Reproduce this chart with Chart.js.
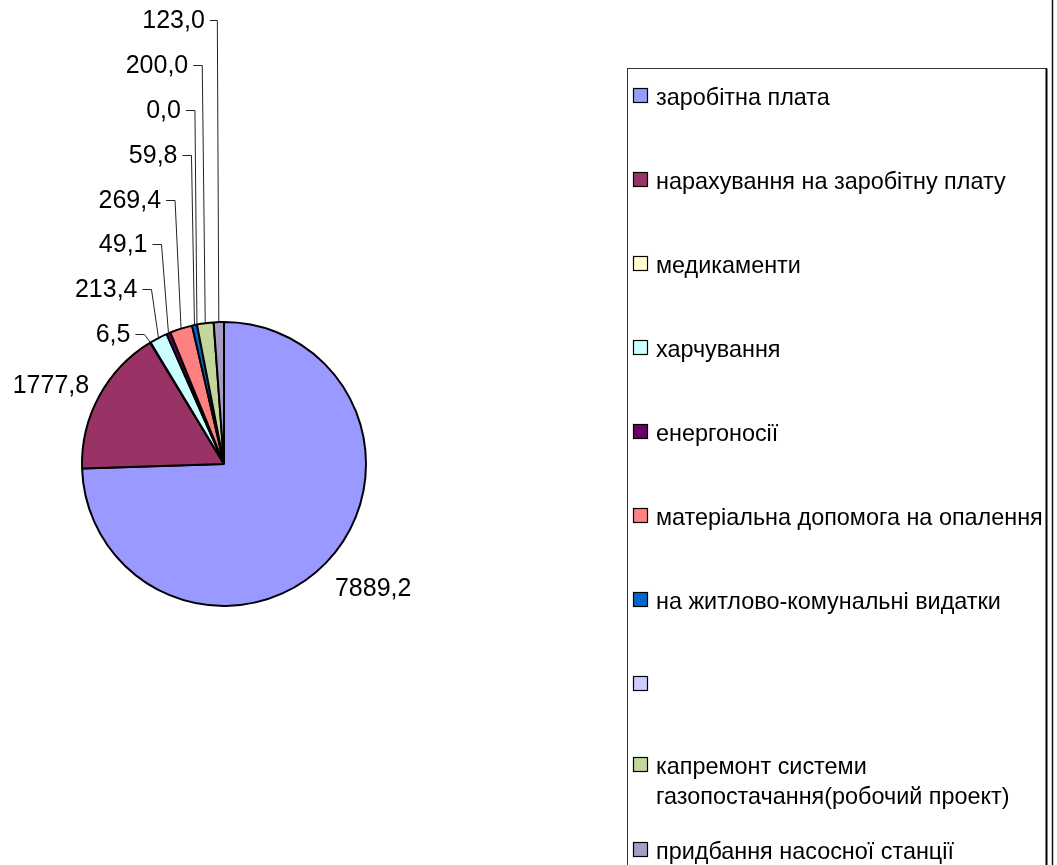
<!DOCTYPE html>
<html><head><meta charset="utf-8">
<script src="https://cdn.jsdelivr.net/npm/chart.js@4.4.1/dist/chart.umd.min.js"></script>
<style>html,body{margin:0;padding:0;background:#fff;overflow:hidden}</style>
</head><body>
<canvas id="c" width="1057" height="865"></canvas>
<script>
// ---- data ----
const categories = ["заробітна плата","нарахування на заробітну плату","медикаменти","харчування","енергоносії","матеріальна допомога на опалення","на житлово-комунальні видатки","","капремонт системи газопостачання(робочий проект)","придбання насосної станції"];
const values = [7889.2, 1777.8, 6.5, 213.4, 49.1, 269.4, 59.8, 0.0, 200.0, 123.0];
const colors = ["#9999FF","#993366","#FFFFCC","#CCFFFF","#660066","#FF8080","#0066CC","#CCCCFF","#C3D69B","#A99CC4"];
const valueLabels = values.map(v => v.toFixed(1).replace('.', ','));

// ---- layout ----
const LABEL_FONT = '25px "Liberation Sans", Arial, sans-serif';
const LEGEND_FONT = '23.4px "Liberation Sans", Arial, sans-serif';
const labelLayout = [
  {mode:'radial', dx:9, dy:33, align:'left'},
  {mode:'radial', dx:-10, dy:-3, align:'right'},
  {mode:'leader', baseY:342, gap:20},
  {mode:'leader', baseY:297, gap:21},
  {mode:'leader', baseY:252, gap:21},
  {mode:'leader', baseY:208, gap:20},
  {mode:'leader', baseY:163, gap:17},
  {mode:'leader', baseY:118, gap:16},
  {mode:'leader', baseY:73, gap:17},
  {mode:'leader', baseY:28, gap:14}
];
const legendBox = {x:627.5, y:68.5, w:419, h:900};
const legendBaselines = [105,189,273,357,441,525,609,693,774,859];
const legendTextX = 656, legendSwatchX = 633.5, legendMaxW = 400, legendLineH = 30;

const labelPlugin = {
  id:'labels',
  afterDatasetsDraw(chart){
    const ctx = chart.ctx;
    const meta = chart.getDatasetMeta(0);
    ctx.save();
    ctx.font = LABEL_FONT;
    ctx.fillStyle = '#000';
    ctx.strokeStyle = '#222';
    ctx.lineWidth = 1;
    meta.data.forEach((arc, i) => {
      const p = arc.getProps(['x','y','startAngle','endAngle','outerRadius'], true);
      const mid = (p.startAngle + p.endAngle) / 2;
      const ex = p.x + Math.cos(mid) * p.outerRadius;
      const ey = p.y + Math.sin(mid) * p.outerRadius;
      const L = labelLayout[i];
      ctx.textBaseline = 'alphabetic';
      if (L.mode === 'radial') {
        ctx.textAlign = L.align;
        ctx.fillText(valueLabels[i], ex + L.dx, ey + L.dy);
      } else {
        const right = ex - L.gap;
        ctx.textAlign = 'right';
        ctx.fillText(valueLabels[i], right, L.baseY);
        const ty = Math.round(L.baseY - 8.5) + 0.5;
        const tickEnd = Math.min(ex - 1.5, right + 14);
        ctx.beginPath();
        ctx.moveTo(right + 5, ty);
        ctx.lineTo(tickEnd, ty);
        ctx.lineTo(ex, ey);
        ctx.stroke();
      }
    });
    ctx.restore();
  },
  afterDraw(chart){
    const ctx = chart.ctx;
    ctx.save();
    ctx.strokeStyle = '#111';
    ctx.lineWidth = 1.5;
    ctx.beginPath(); ctx.moveTo(1052.5, 0); ctx.lineTo(1052.5, 865); ctx.stroke();
    ctx.strokeStyle = '#333';
    ctx.lineWidth = 1;
    ctx.strokeRect(legendBox.x, legendBox.y, legendBox.w, legendBox.h);
    ctx.strokeStyle = '#000';
    ctx.lineWidth = 2;
    ctx.beginPath(); ctx.moveTo(legendBox.x + legendBox.w, legendBox.y); ctx.lineTo(legendBox.x + legendBox.w, 865); ctx.stroke();
    ctx.font = LEGEND_FONT;
    ctx.textAlign = 'left';
    ctx.textBaseline = 'alphabetic';
    categories.forEach((name, i) => {
      const by = legendBaselines[i];
      ctx.fillStyle = colors[i];
      ctx.fillRect(legendSwatchX, by - 16.5, 14, 14);
      ctx.strokeStyle = '#000';
      ctx.lineWidth = 1.2;
      ctx.strokeRect(legendSwatchX, by - 16.5, 14, 14);
      const words = name.split(' ');
      const lines = [];
      let cur = '';
      words.forEach(w => {
        const t = cur ? cur + ' ' + w : w;
        if (cur && ctx.measureText(t).width > legendMaxW) { lines.push(cur); cur = w; }
        else cur = t;
      });
      lines.push(cur);
      ctx.fillStyle = '#000';
      lines.forEach((ln, k) => ctx.fillText(ln, legendTextX, by + k * legendLineH));
    });
    ctx.restore();
  }
};

new Chart(document.getElementById('c'), {
  type:'pie',
  data:{
    labels: categories,
    datasets:[{
      data: values,
      backgroundColor: colors,
      borderColor:'#000',
      borderWidth:2
    }]
  },
  options:{
    responsive:false,
    animation:false,
    events:[],
    radius:142,
    layout:{padding:{left:82, top:322, right:691, bottom:259}},
    plugins:{legend:{display:false}, tooltip:{enabled:false}}
  },
  plugins:[labelPlugin]
});
</script>
</body></html>
